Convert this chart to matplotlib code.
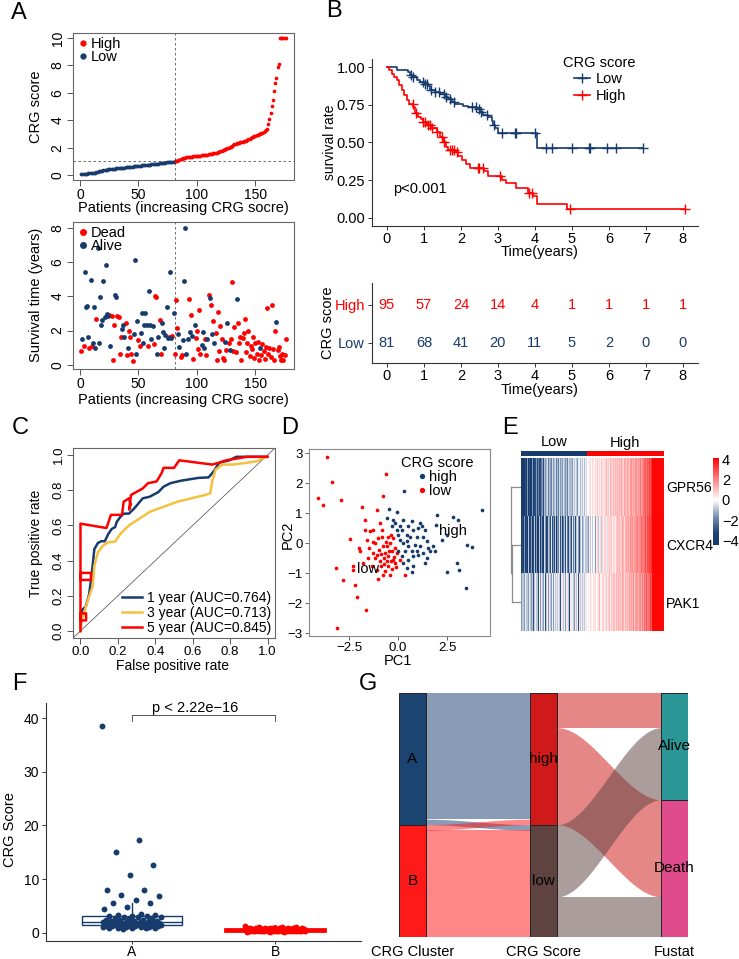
import numpy as np
import matplotlib
matplotlib.use("Agg")
import matplotlib.pyplot as plt
from matplotlib.colors import LinearSegmentedColormap, ListedColormap
from matplotlib.lines import Line2D
from matplotlib.patches import Rectangle

plt.rcParams["font.family"] = ["Liberation Sans", "DejaVu Sans"]

NAVY = "#173B6C"
RED = "#FF0000"
YELLOW = "#F5C040"

# ---------------- data ----------------

# A: risk score per patient (sorted), first N_LOW are the low group
N_LOW = 81
CUTOFF = 1.0
CRG_SCORE = [
    0.05, 0.07, 0.08, 0.09, 0.10, 0.11, 0.12, 0.13, 0.14, 0.15,
    0.16, 0.17, 0.18, 0.19, 0.22, 0.26, 0.29, 0.31, 0.33, 0.35,
    0.37, 0.38, 0.40, 0.41, 0.42, 0.43, 0.44, 0.45, 0.46, 0.47,
    0.48, 0.49, 0.50, 0.51, 0.52, 0.53, 0.54, 0.55, 0.56, 0.57,
    0.58, 0.59, 0.60, 0.61, 0.62, 0.63, 0.64, 0.65, 0.66, 0.67,
    0.68, 0.69, 0.70, 0.71, 0.72, 0.73, 0.74, 0.75, 0.76, 0.77,
    0.78, 0.79, 0.80, 0.81, 0.82, 0.83, 0.84, 0.85, 0.86, 0.87,
    0.88, 0.90, 0.91, 0.92, 0.93, 0.94, 0.95, 0.96, 0.97, 0.98, 0.99,
    1.02, 1.05, 1.08, 1.12, 1.16, 1.20, 1.23, 1.26, 1.28, 1.30,
    1.31, 1.32, 1.33, 1.34, 1.35, 1.36, 1.37, 1.38, 1.39, 1.40,
    1.41, 1.42, 1.43, 1.44, 1.45, 1.46, 1.47, 1.48, 1.50, 1.52,
    1.54, 1.56, 1.58, 1.60, 1.62, 1.64, 1.67, 1.70, 1.74, 1.78,
    1.82, 1.86, 1.90, 1.93, 1.96, 1.99, 2.03, 2.08, 2.14, 2.20,
    2.25, 2.29, 2.32, 2.35, 2.37, 2.39, 2.41, 2.43, 2.45, 2.47,
    2.50, 2.55, 2.60, 2.65, 2.70, 2.75, 2.80, 2.85, 2.88, 2.91,
    2.94, 2.97, 3.00, 3.04, 3.08, 3.13, 3.18, 3.25,
    3.35, 3.70, 4.10, 4.50, 5.00, 5.50, 6.10, 6.70, 7.10, 7.90, 8.10,
    10.0, 10.0, 10.0, 10.0, 10.0, 10.0,
]
SURV_TIME = [
    0.8, 1.5, 1.1, 5.45, 3.4, 3.45, 1.65, 1.0, 4.95, 1.1,
    1.25, 3.35, 1.0, 2.7, 6.85, 1.25, 3.95, 2.3, 2.6, 4.9,
    2.8, 5.85, 2.95, 2.85, 2.9, 1.1, 2.85, 0.25, 2.3, 4.05,
    3.95, 2.85, 2.8, 0.6, 1.65, 2.1, 2.3, 1.6, 2.45, 0.55,
    0.95, 1.95, 1.6, 0.65, 0.2, 1.8, 6.1, 0.65, 2.55, 1.45,
    1.1, 1.85, 3.0, 1.3, 2.35, 3.0, 2.35, 1.1, 4.3, 2.3,
    1.5, 2.25, 1.2, 4.0, 3.95, 0.65, 1.6, 2.6, 0.65, 2.45,
    1.9, 0.95, 1.75, 3.4, 1.55, 1.6, 5.4, 1.55, 1.7, 3.0,
    0.6, 3.8, 2.15, 1.8, 1.05, 0.45, 0.55, 1.45, 4.9, 8.0,
    0.65, 1.5, 3.85, 1.9, 2.9, 1.7, 0.35, 2.35, 1.55, 1.95,
    0.9, 3.2, 0.6, 1.15, 1.9, 1.0, 1.5, 0.55, 1.5, 4.05,
    3.9, 3.5, 1.8, 2.55, 1.3, 1.85, 0.3, 3.1, 0.8, 2.25,
    1.5, 0.4, 0.25, 1.35, 0.85, 2.45, 1.3, 0.85, 1.5, 4.85,
    0.8, 2.2, 0.75, 3.85, 2.45, 1.3, 1.6, 0.25, 1.55, 1.85,
    2.65, 0.75, 1.25, 2.0, 0.5, 1.1, 0.9, 1.6, 0.4, 1.25,
    0.65, 1.35, 0.3, 1.0, 0.55, 1.2, 0.8, 0.35, 1.05, 3.3,
    0.6, 1.0, 0.45, 3.5, 0.9, 0.3, 2.0, 2.5, 0.85, 1.05,
    0.5, 0.25, 0.6, 0.3, 0.55, 1.5,
]
SURV_DEAD = [
    1, 0, 1, 0, 0, 0, 0, 1, 0, 1,
    0, 0, 0, 1, 0, 0, 0, 0, 0, 0,
    0, 0, 0, 0, 1, 0, 1, 1, 1, 0,
    0, 1, 1, 1, 1, 0, 0, 0, 1, 1,
    0, 1, 1, 1, 1, 0, 0, 0, 0, 1,
    1, 0, 0, 0, 0, 0, 0, 1, 0, 0,
    0, 0, 1, 1, 1, 0, 0, 1, 1, 0,
    0, 0, 0, 0, 0, 1, 0, 0, 1, 0,
    1, 1, 1, 0, 0, 1, 1, 0, 0, 0,
    0, 0, 1, 0, 1, 0, 1, 0, 1, 1,
    1, 1, 1, 0, 0, 0, 1, 1, 0, 1,
    0, 1, 0, 1, 0, 1, 1, 1, 1, 1,
    1, 1, 1, 0, 1, 0, 1, 0, 1, 1,
    1, 1, 1, 0, 1, 1, 1, 1, 1, 1,
    1, 1, 1, 1, 1, 1, 1, 1, 1, 1,
    1, 1, 1, 0, 1, 1, 1, 1, 1, 1,
    1, 1, 1, 1, 1, 1, 1, 0, 1, 1,
    1, 1, 1, 1, 1, 1,
]

# B: Kaplan-Meier steps (time of drop, survival after drop)
LOW_T = [0, 0.26, 0.58, 0.62, 0.67, 0.80, 0.89, 1.03, 1.12, 1.16, 1.30, 1.43,
         1.57, 1.66, 1.75, 1.84, 2.06, 2.20, 2.42, 2.51, 2.60, 2.74, 2.83,
         2.87, 2.92, 3.01, 4.05]
LOW_S = [1.0, 0.978, 0.967, 0.945, 0.934, 0.912, 0.901, 0.89, 0.873, 0.846,
         0.835, 0.824, 0.802, 0.787, 0.769, 0.754, 0.741, 0.732, 0.721, 0.703,
         0.681, 0.666, 0.644, 0.615, 0.593, 0.565, 0.462]
LOW_END = 6.93
LOW_CENSOR = [0.64, 0.7, 0.98, 1.03, 1.08, 1.2, 1.3, 1.4, 1.55, 1.6, 1.7, 1.8,
              2.3, 2.4, 2.5, 2.55, 2.7, 2.9, 3.1, 3.45, 3.5, 4.0, 4.3, 4.45,
              5.0, 5.45, 5.5, 5.95, 6.2, 6.93]
HIGH_T = [0, 0.06, 0.13, 0.20, 0.26, 0.32, 0.40, 0.46, 0.53, 0.60, 0.71, 0.77,
          0.85, 0.91, 0.98, 1.07, 1.21, 1.34, 1.43, 1.52, 1.59, 1.66, 1.84,
          1.93, 2.02, 2.15, 2.24, 2.62, 2.74, 3.10, 3.23, 3.50, 3.82, 3.95,
          4.05, 4.86]
HIGH_S = [1.0, 0.978, 0.956, 0.934, 0.912, 0.879, 0.846, 0.813, 0.78, 0.758,
          0.736, 0.697, 0.67, 0.653, 0.635, 0.615, 0.593, 0.571, 0.538, 0.505,
          0.473, 0.451, 0.44, 0.411, 0.385, 0.358, 0.33, 0.308, 0.275, 0.253,
          0.231, 0.198, 0.165, 0.143, 0.095, 0.062]
HIGH_END = 8.05
HIGH_CENSOR = [0.7, 0.78, 0.98, 1.03, 1.1, 1.15, 1.22, 1.35, 1.5, 1.55, 1.7,
               1.75, 1.8, 1.88, 2.45, 2.5, 2.6, 3.05, 3.85, 3.92, 4.95, 8.05]
RISK_TIMES = [0, 1, 2, 3, 4, 5, 6, 7, 8]
RISK_HIGH = [95, 57, 24, 14, 4, 1, 1, 1, 1]
RISK_LOW = [81, 68, 41, 20, 11, 5, 2, 0, 0]

# C: ROC curves
ROC_LABELS = ["1 year (AUC=0.764)", "3 year (AUC=0.713)", "5 year (AUC=0.845)"]
FPR_1Y = [0, 0.009, 0.028, 0.046, 0.056, 0.065, 0.074, 0.093, 0.111, 0.13,
          0.148, 0.167, 0.185, 0.194, 0.213, 0.231, 0.259, 0.287, 0.333, 0.37,
          0.417, 0.444, 0.481, 0.537, 0.63, 0.685, 0.713, 0.741, 0.796, 0.833, 1.0]
TPR_1Y = [0, 0.12, 0.138, 0.206, 0.29, 0.37, 0.465, 0.5, 0.51, 0.51,
          0.55, 0.58, 0.59, 0.62, 0.648, 0.667, 0.667, 0.696, 0.754, 0.763,
          0.79, 0.82, 0.84, 0.854, 0.87, 0.873, 0.908, 0.956, 0.97, 0.99, 0.99]
FPR_3Y = [0, 0.004, 0.019, 0.037, 0.065, 0.074, 0.093, 0.12, 0.148, 0.185,
          0.213, 0.259, 0.315, 0.37, 0.444, 0.519, 0.593, 0.667, 0.694, 0.704,
          0.722, 0.759, 0.815, 0.889, 0.944, 0.981, 1.0]
TPR_3Y = [0, 0.06, 0.1, 0.167, 0.254, 0.37, 0.446, 0.485, 0.504, 0.508,
          0.552, 0.6, 0.638, 0.677, 0.706, 0.735, 0.754, 0.773, 0.783, 0.85,
          0.917, 0.946, 0.946, 0.956, 0.965, 0.985, 0.99]
FPR_5Y = [0, 0, 0.03, 0.03, 0, 0, 0.056, 0.056, 0, 0, 0.139, 0.163, 0.222,
          0.231, 0.259, 0.269, 0.26, 0.27, 0.333, 0.361, 0.407, 0.435, 0.444,
          0.5, 0.528, 0.63, 0.704, 0.74, 0.778, 0.889, 1.0]
TPR_5Y = [0, 0.1, 0.1, 0.06, 0.06, 0.33, 0.33, 0.29, 0.29, 0.61, 0.585, 0.66,
          0.66, 0.735, 0.754, 0.72, 0.69, 0.773, 0.81, 0.84, 0.85, 0.9, 0.927,
          0.927, 0.97, 0.956, 0.946, 0.956, 0.97, 0.99, 0.99]

# D: PCA
PCA_LOW_X = [-3.64, -3.38, -4.06, -3.81, -2.91, -0.61, -0.75, -1.82, -1.09, -1.67,
             -2.45, -1.94, -3.16, -2.82, -2.19, -2.11, -1.65, -3.1, -2.31, -2.28,
             -1.43, -1.26, -1.6, -1.17, -1.0, -0.92, -0.83, -0.95, -0.78, -0.66,
             -0.71, -0.49, -0.58, -0.41, -0.32, -0.27, -0.15, -0.07, -0.24, -0.49,
             -0.88, -1.0, -0.75, -0.41, -1.17, -1.34, -1.09, -1.26, -1.77, -1.51,
             -0.66, 0.1, 0.36, -0.37, -0.15, -0.82, -0.49, -1.67, -1.97, -0.92,
             -0.55, -0.3, -1.05, -0.6, -0.2, -0.85, -1.3, -0.45, -0.1, -0.7,
             -1.5, -0.35]
PCA_LOW_Y = [2.88, 2.05, 1.52, 1.29, 1.46, 2.32, 1.59, 1.22, 1.13, 0.79,
             0.14, -0.27, -0.82, -1.22, -1.38, -1.79, -2.22, -2.83, -0.74, -0.88,
             0.4, 0.46, 0.12, 0.01, 0.18, 0.68, 0.46, -0.21, -0.1, -0.32,
             -0.49, -0.43, -0.1, 0.01, -0.27, -0.55, -0.66, -0.32, 0.18, -0.77,
             -0.77, -1.19, -1.05, -1.05, -0.49, -0.77, -0.88, -0.32, -0.66, -0.49,
             -0.93, -0.55, -1.05, 0.29, -0.16, 0.23, 0.23, 0.46, -0.16, -0.6,
             -0.6, -0.85, -0.4, 0.05, -0.45, -0.35, 0.05, -0.25, -0.8, -0.7,
             -0.15, -0.6]
PCA_HIGH_X = [0.31, 4.3, -0.44, -0.07, 1.97, 2.79, 3.08, -0.58, -0.24, 0.27,
              0.7, 1.12, 1.21, 1.94, 2.23, 2.48, 3.5, 3.78, 2.99, 3.13,
              2.48, 3.45, 1.89, 1.46, 1.55, 0.95, 0.78, 0.44, 0.19, 0.02,
              0.1, 0.27, 0.53, 0.7, 0.87, 1.12, 1.29, 1.04, 0.78, 0.53,
              0.27, 0.7, 1.38, 1.63, 1.26, 1.38, 1.04, 0.53, -0.07, -0.15,
              -0.32, 0.1, 0.44, 0.61, 0.95, 0.36, 0.19, 0.02, 1.46, 1.8,
              0.78, 0.44]
PCA_HIGH_Y = [1.74, 1.13, 1.15, 1.04, 0.94, 0.87, 0.77, 0.85, 0.79, 0.77,
              0.74, 0.68, 0.57, 0.61, 0.12, 0.29, -0.04, -0.13, -0.64, -0.88,
              -0.94, -1.49, -0.27, 0.07, -0.16, 0.23, 0.46, 0.29, 0.46, 0.29,
              0.12, 0.01, -0.1, -0.27, -0.04, -0.1, -0.32, -0.38, -0.43, -0.55,
              -0.66, -0.94, -0.66, -0.27, 0.23, 0.46, 0.51, 0.59, 0.46, 0.68,
              0.57, 0.57, 0.07, 0.23, -0.27, -0.27, -0.43, -0.27, -0.49, -0.08,
              -0.77, -0.82]

# E: heatmap (columns ordered: 81 low-group samples, then 95 high-group samples)
GENES = ["GPR56", "CXCR4", "PAK1"]
HEAT_N_LOW = 81
GPR56 = [
    -4, -4, -3, -4, -4, -3, -4, -4, -1.5, -4,
    -3, -4, -4, -3, -1.5, -4, -3, -3, -4, -1.5,
    -3, -2, -3, -1, -3, -2, -1.5, -3, -1, -2,
    -1.5, -1, -0.5, -2, -1.5, -1, -1.5, -2, -0.5, -1,
    -1.5, -1, -0.5, -2, -1, -1, -2, -0.5, -1.5, -1,
    -1, -1.5, -0.5, -1, -1.5, -0.5, -1, -2, -0.5, -1,
    -1, -0.3, -1, -1.5, -0.3, -0.8, -1, -0.3, -0.8, -1.5,
    -0.3, -0.8, -0.2, -1, -0.3, -0.8, -0.2, -0.5, -1, -0.2,
    -0.5,
    0.1, 0.3, 0, 0.4, 0.6, 0, 0.3, 0.6, 0.3, 0.1,
    0.6, 0.3, 0.6, 0.9, 0.3, 0.6, 0.3, 0.6, 0.9, 0.6,
    0.3, 0.6, 0.9, 0.6, 1.2, 0.6, 0.9, 0.3, 0.6, 1.2,
    0.9, 0.6, 1.2, 0.9, 0.6, 1.2, 0.9, 1.2, 0.6, 0.9,
    1.2, 0.9, 1.5, 0.9, 1.2, 0.6, 1.5, 1.2, 0.9, 1.2,
    1.5, 1.2, 0.9, 1.5, 1.2, 1.8, 1.2, 1.5, 1.2, 1.8,
    1.5, 1.8, 1.2, 1.8, 1.5, 2.0, 2.2, 1.5, 1.8, 2.2,
    2.0, 2.4, 2.8, 2.0, 2.8, 2.4, 3.0, 3.2, 2.6, 3.4,
    4, 4, 4, 4, 4, 4, 4, 4, 4, 4,
    4, 4, 4, 4, 4,
]
CXCR4 = [
    -4, -3, -4, -4, -1.5, -4, -3, -4, -4, -0.8,
    -4, -3, -1.5, -4, -4, -3, -0.8, -4, -3, -1.5,
    -4, -4, -0.8, -3, -4, -1.5, -3, -4, -0.5, -3,
    -1.5, -4, -3, -0.8, -4, -1.5, -3, -0.3, -3, -4,
    -1.5, -3, -0.8, -4, -1.5, -3, -2, -0.3, -3, -0.8,
    -1.5, -4, -2, -0.8, -3, -1.5, -0.3, -2, -3, -0.8,
    -1.5, -0.8, -3, -0.3, -2, -0.8, -1.5, -3, -0.8, -0.2,
    -1.5, -0.8, -3, -0.8, -0.2, -1.5, -0.8, -2, -0.2, -0.8,
    -0.8,
    -0.8, 0, -1.5, 0.3, -0.8, 0, 0.6, -0.8, 0, 0.3,
    -1.5, 0.3, 0, 0.6, -0.8, 0.3, 0.6, 0, -0.8, 0.6,
    0.3, 0.6, 0, 0.9, 0.3, -0.5, 0.6, 0.9, 0, 0.6,
    0.9, 0.3, 0.6, 1.2, 0.6, 0.3, 0.9, 1.2, 0.6, 0.9,
    1.2, 0.6, 0.9, 1.5, 0.9, 1.2, 0.6, 1.2, 1.5, 0.9,
    1.2, 1.5, 1.2, 1.8, 1.2, 1.5, 1.8, 1.2, 1.5, 1.8,
    1.5, 1.8, 2.2, 1.5, 1.8, 2.2, 1.8, 2.6, 2.0, 2.2,
    2.6, 2.2, 3.0, 2.0, 3.0, 2.8, 2.4, 3.2, 3.0, 3.4,
    4, 4, 4, 4, 4, 4, 4, 4, 4, 4,
    4, 4, 4, 4, 4,
]
PAK1 = [
    -1.5, -0.8, -3, -0.8, -1.5, -0.2, -0.8, -3, -0.8, -1.5,
    -0.2, -0.8, -1.5, 0.5, -0.8, -3, -0.8, -0.2, -1.5, -0.8,
    -0.8, -3, -0.2, -0.8, -1.5, 0.5, -0.8, -1.5, -0.2, -0.8,
    -3, -0.8, -0.2, -1.5, -0.8, 0.5, -0.8, -1.5, -0.2, -0.8,
    -1.5, -0.2, -0.8, 0.5, -0.8, -1.5, -0.2, -0.8, -3, -0.2,
    -0.8, 0.5, -0.8, -0.2, -1.5, -0.8, -0.2, 0.5, -0.8, -4,
    -0.2, -0.8, 0.5, -0.2, -0.8, -1.5, -0.2, 0.5, -0.8, -0.2,
    -3, -0.2, 0.5, -0.8, -0.2, -0.8, 0.5, -0.2, -0.8, -0.2,
    0.5,
    0, 0.6, 0.3, 0, 0.6, 0.3, 0.9, 0, 0.6, 0.3,
    0.6, 0, 0.9, 0.3, 0.6, 1.2, 0.3, 0.6, 0, 0.9,
    0.6, 0.3, 1.2, 0.6, 0.9, 0.3, 0.6, 1.2, 0.6, 0.3,
    0.9, 0.6, 1.2, 0.3, 0.9, 0.6, 1.2, 0.9, 0.6, 1.2,
    0.9, 1.2, 0.6, 1.5, 0.9, 1.2, 0.6, 1.2, 0.9, 1.5,
    1.2, 0.9, 1.5, 1.2, 0.6, 1.5, 1.2, 1.8, 0.9, 1.5,
    1.2, 1.8, 1.5, 1.2, 1.8, 1.5, 2.0, 1.2, 2.2, 1.5,
    2.0, 2.4, 2.0, 2.8, 2.0, 2.4, 3.0, 2.2, 3.2, 2.6,
    4, 4, 4, 4, 4, 4, 4, 4, 4, 4,
    4, 4, 4, 4, 4,
]
DEND_HEIGHTS = [9.3, 10.3]   # merge CXCR4+PAK1, then with GPR56

# F: CRG score by cluster
SCORE_A = [38.5, 17.3, 15.0, 12.7, 10.8, 8.0, 7.9, 7.1, 6.8, 6.1, 5.6, 5.5, 4.8,
           4.5, 3.6, 3.4, 3.3, 3.2, 3.2, 3.1, 3.0, 3.0, 2.9, 2.8, 2.7, 2.6, 2.5,
           2.5, 2.4, 2.3, 2.3, 2.2, 2.2, 2.1, 2.1, 2.0, 2.0, 2.0, 1.9, 1.9, 1.9,
           1.8, 1.8, 1.8, 1.7, 1.7, 1.7, 1.6, 1.6, 1.6, 1.5, 1.5, 1.5, 1.5, 1.4,
           1.4, 1.4, 1.4, 1.3, 1.3, 1.3, 1.3, 1.2, 1.2, 1.2, 1.2, 1.1, 1.1, 1.1,
           1.1, 1.0, 1.0, 1.0, 0.9, 0.9, 0.8]
SCORE_B = [1.2, 1.15, 1.1, 1.05, 1.0, 1.0, 0.95, 0.95, 0.9, 0.9,
           0.9, 0.85, 0.85, 0.85, 0.8, 0.8, 0.8, 0.8, 0.75, 0.75,
           0.75, 0.75, 0.7, 0.7, 0.7, 0.7, 0.7, 0.65, 0.65, 0.65,
           0.65, 0.65, 0.6, 0.6, 0.6, 0.6, 0.6, 0.6, 0.55, 0.55,
           0.55, 0.55, 0.55, 0.5, 0.5, 0.5, 0.5, 0.5, 0.5, 0.45,
           0.45, 0.45, 0.45, 0.45, 0.4, 0.4, 0.4, 0.4, 0.4, 0.35,
           0.35, 0.35, 0.35, 0.3, 0.3, 0.3, 0.3, 0.25, 0.25, 0.25]
P_TEXT = "p < 2.22e\u221216"

# G: alluvial counts
AXIS_NAMES = ["CRG Cluster", "CRG Score", "Fustat"]
CLUSTERS = ["A", "B"]
SCORES = ["high", "low"]
FUSTAT = ["Alive", "Death"]
FLOW_CLUSTER_SCORE = {("A", "high"): 91, ("A", "low"): 4, ("B", "high"): 4, ("B", "low"): 77}
FLOW_SCORE_FUSTAT = {("high", "Alive"): 25, ("high", "Death"): 70,
                     ("low", "Alive"): 52, ("low", "Death"): 29}
STRATUM_COLORS = {"A": "#1B4471", "B": "#FF1A1A", "high": "#D01A1A",
                  "low": "#5E4340", "Alive": "#2A9696", "Death": "#E04B8B"}

# ---------------- layout helpers ----------------
W, H = 739, 959
fig = plt.figure(figsize=(W / 100, H / 100), dpi=100)


def box(l, t, r, b):
    return [l / W, 1 - b / H, (r - l) / W, (b - t) / H]


def ftext(x, y, s, **kw):
    kw.setdefault("ha", "center")
    kw.setdefault("va", "center")
    fig.text(x / W, 1 - y / H, s, **kw)


def base_style(ax, rot_y=True, size=10):
    for sp in ax.spines.values():
        sp.set_color("#666666")
        sp.set_linewidth(0.8)
    ax.tick_params(direction="out", length=4, width=0.7, color="#555555",
                   labelsize=size, pad=2)
    if rot_y:
        for lab in ax.get_yticklabels():
            lab.set_rotation(90)
            lab.set_va("center")


def gg_style(ax, size=10):
    ax.spines["top"].set_visible(False)
    ax.spines["right"].set_visible(False)
    for k in ("left", "bottom"):
        ax.spines[k].set_color("#333333")
        ax.spines[k].set_linewidth(0.8)
    ax.tick_params(direction="out", length=3, width=0.7, color="#333333",
                   labelsize=size, pad=2)
    ax.tick_params(axis="x", pad=1)


# ---------------- A top ----------------
ax = fig.add_axes(box(73, 33, 294, 180))
rank = np.arange(1, len(CRG_SCORE) + 1)
score = np.array(CRG_SCORE)
low = rank <= N_LOW
ax.scatter(rank[low], score[low], s=7, color=NAVY, lw=0, zorder=3)
ax.scatter(rank[~low], score[~low], s=7, color=RED, lw=0, zorder=3)
ax.axvline(N_LOW + 0.5, color="#555555", ls=(0, (3, 3)), lw=0.6)
ax.axhline(CUTOFF, color="#555555", ls=(0, (3, 3)), lw=0.6)
ax.set_xlim(-6, 183)
ax.set_ylim(-0.36, 10.36)
ax.set_xticks([0, 50, 100, 150])
ax.set_yticks(range(0, 11, 2))
base_style(ax)
ax.legend(handles=[Line2D([], [], marker="o", ls="", color=RED, ms=3.5, label="High"),
                   Line2D([], [], marker="o", ls="", color=NAVY, ms=3.5, label="Low")],
          loc="upper left", frameon=False, fontsize=10.5, handletextpad=0.1,
          borderaxespad=0.2, labelspacing=-0.1, borderpad=0.1, handlelength=0.8)
ftext(36, 107, "CRG score", rotation=90, fontsize=10.5)
ftext(183, 208, "Patients (increasing CRG socre)", fontsize=10.5)

# ---------------- A bottom ----------------
ax = fig.add_axes(box(73, 222, 294, 369))
stime = np.array(SURV_TIME)
dead = np.array(SURV_DEAD) == 1
ax.scatter(rank[dead], stime[dead], s=12, color=RED, lw=0, zorder=3)
ax.scatter(rank[~dead], stime[~dead], s=12, color=NAVY, lw=0, zorder=3)
ax.axvline(N_LOW + 0.5, color="#555555", ls=(0, (3, 3)), lw=0.6)
ax.set_xlim(-6, 183)
ax.set_ylim(-0.25, 8.35)
ax.set_xticks([0, 50, 100, 150])
ax.set_yticks(range(0, 9, 2))
base_style(ax)
ax.legend(handles=[Line2D([], [], marker="o", ls="", color=RED, ms=4, label="Dead"),
                   Line2D([], [], marker="o", ls="", color=NAVY, ms=4, label="Alive")],
          loc="upper left", frameon=False, fontsize=10.5, handletextpad=0.1,
          borderaxespad=0.2, labelspacing=-0.1, borderpad=0.1, handlelength=0.8)
ftext(36, 295, "Survival time (years)", rotation=90, fontsize=10.5)
ftext(183, 400, "Patients (increasing CRG socre)", fontsize=10.5)


# ---------------- B KM ----------------
def surv_at(tt, ss, c):
    i = np.searchsorted(np.array(tt), np.array(c), side="right") - 1
    return np.array(ss)[i]


ax = fig.add_axes(box(372, 59, 698, 226))
for tt, ss, end, cens, col in [(LOW_T, LOW_S, LOW_END, LOW_CENSOR, NAVY),
                               (HIGH_T, HIGH_S, HIGH_END, HIGH_CENSOR, RED)]:
    ax.step(list(tt) + [end], list(ss) + [ss[-1]], where="post", color=col, lw=1.2)
    ax.plot(cens, surv_at(tt, ss, cens), ls="", marker="+", ms=7, mew=1.0, color=col)
ax.set_xlim(-0.405, 8.41)
ax.set_ylim(-0.053, 1.053)
ax.set_xticks(RISK_TIMES)
ax.set_yticks([0, 0.25, 0.5, 0.75, 1.0])
ax.set_yticklabels(["0.00", "0.25", "0.50", "0.75", "1.00"])
gg_style(ax, 10.5)
ax.text(0.16, 0.19, "p<0.001", fontsize=10.5, ha="left", va="center")
ax.legend(handles=[Line2D([], [], color=NAVY, marker="+", ms=7, mew=1.0, lw=1.2, label="Low"),
                   Line2D([], [], color=RED, marker="+", ms=7, mew=1.0, lw=1.2, label="High")],
          title="CRG score", title_fontsize=10.5, fontsize=10.5, frameon=False,
          loc="upper left", bbox_to_anchor=(0.565, 1.06), handlelength=1.1,
          handletextpad=0.4, labelspacing=0.15, borderpad=0)
ftext(330, 142, "survival rate", rotation=90, fontsize=10)
ftext(540, 252, "Time(years)", fontsize=10.5)

# ---------------- B risk table ----------------
ax = fig.add_axes(box(372, 283, 698, 363))
for t, nh, nl in zip(RISK_TIMES, RISK_HIGH, RISK_LOW):
    ax.text(t, 1, str(nh), color=RED, ha="center", va="center", fontsize=10.5)
    ax.text(t, 0, str(nl), color=NAVY, ha="center", va="center", fontsize=10.5)
ax.set_xlim(-0.405, 8.41)
ax.set_ylim(-0.53, 1.58)
ax.set_xticks(RISK_TIMES)
ax.set_yticks([1, 0])
ax.set_yticklabels(["High", "Low"])
gg_style(ax, 10.5)
ax.get_yticklabels()[0].set_color(RED)
ax.get_yticklabels()[1].set_color(NAVY)
ftext(328, 323, "CRG score", rotation=90, fontsize=10.5)
ftext(540, 390, "Time(years)", fontsize=10.5)

# ---------------- C ROC ----------------
ax = fig.add_axes(box(73, 448, 275, 638))
ax.axline((0, 0), slope=1, color="#444444", lw=0.5)
ax.plot(FPR_1Y, TPR_1Y, color=NAVY, lw=1.8, label=ROC_LABELS[0])
ax.plot(FPR_3Y, TPR_3Y, color=YELLOW, lw=1.8, label=ROC_LABELS[1])
ax.plot(FPR_5Y, TPR_5Y, color=RED, lw=1.8, label=ROC_LABELS[2])
ax.set_xlim(-0.04, 1.04)
ax.set_ylim(-0.04, 1.04)
ax.set_xticks(np.arange(0, 1.01, 0.2))
ax.set_yticks(np.arange(0, 1.01, 0.2))
base_style(ax, size=9.5)
ax.legend(loc="lower right", frameon=False, fontsize=10, handlelength=1.4,
          handletextpad=0.4, labelspacing=0.05, borderaxespad=0.15, borderpad=0.1)
ftext(36, 543, "True positive rate", rotation=90, fontsize=10)
ftext(172, 666, "False positive rate", fontsize=10)

# ---------------- D PCA ----------------
ax = fig.add_axes(box(309, 449, 490, 636))
ax.scatter(PCA_LOW_X, PCA_LOW_Y, s=7, color=RED, lw=0)
ax.scatter(PCA_HIGH_X, PCA_HIGH_Y, s=7, color=NAVY, lw=0)
ax.text(2.79, 0.42, "high", fontsize=10.5, ha="center", va="center")
ax.text(-1.55, -0.85, "low", fontsize=10.5, ha="center", va="center")
ax.set_xlim(-4.54, 4.69)
ax.set_ylim(-3.09, 3.15)
ax.set_xticks([-2.5, 0, 2.5])
ax.set_yticks(range(-3, 4))
for sp in ax.spines.values():
    sp.set_color("#8A8A8A")
    sp.set_linewidth(0.8)
ax.tick_params(length=3, width=0.7, color="#666666", labelsize=9.5, pad=1.5)
ax.legend(handles=[Line2D([], [], marker="o", ls="", color=NAVY, ms=2.8, label="high"),
                   Line2D([], [], marker="o", ls="", color=RED, ms=2.8, label="low")],
          title="CRG score", title_fontsize=10.5, fontsize=10.5, frameon=False,
          loc="upper right", bbox_to_anchor=(0.95, 1.0), handlelength=0.6,
          handletextpad=0.2, labelspacing=0.0, borderpad=0)
ftext(288, 535, "PC2", rotation=90, fontsize=10.5)
ftext(398, 661, "PC1", fontsize=10.5)

# ---------------- E heatmap ----------------
heat = np.array([GPR56, CXCR4, PAK1], dtype=float)
ncol = heat.shape[1]
cmap = LinearSegmentedColormap.from_list(
    "hm", [(0.0, "#16386A"), (0.15, "#22457A"), (0.33, "#7C94B4"),
           (0.518, "#FFFFFF"), (1.0, "#FF0000")])
ax = fig.add_axes(box(521, 458, 664, 631))
im = ax.imshow(heat, cmap=cmap, vmin=-4.4, vmax=4.1, aspect="auto", interpolation="nearest")
ax.set_xticks([])
ax.set_yticks(range(len(GENES)))
ax.set_yticklabels(GENES)
ax.yaxis.tick_right()
ax.tick_params(length=0, labelsize=10, pad=1.5)
for sp in ax.spines.values():
    sp.set_visible(False)

ax = fig.add_axes(box(521, 451, 664, 456))
groups = np.array([[0] * HEAT_N_LOW + [1] * (ncol - HEAT_N_LOW)])
ax.imshow(groups, cmap=ListedColormap([NAVY, RED]), aspect="auto", interpolation="nearest")
ax.axis("off")
ax.text((HEAT_N_LOW - 1) / 2, -2.2, "Low", ha="center", va="center", fontsize=10.5)
ax.text(HEAT_N_LOW + (ncol - HEAT_N_LOW - 1) / 2, -2.2, "High", ha="center", va="center",
        fontsize=10.5)

ax = fig.add_axes(box(500, 458, 521, 631))
h1, h2 = DEND_HEIGHTS
dcol = "#8C8C8C"
ax.plot([0, h1], [1.5, 1.5], color=dcol, lw=0.9)
ax.plot([0, h1], [2.5, 2.5], color=dcol, lw=0.9)
ax.plot([h1, h1], [1.5, 2.5], color=dcol, lw=0.9)
ax.plot([h1, h2], [2.0, 2.0], color=dcol, lw=0.9)
ax.plot([0, h2], [0.5, 0.5], color=dcol, lw=0.9)
ax.plot([h2, h2], [0.5, 2.0], color=dcol, lw=0.9)
ax.set_xlim(21, 0)
ax.set_ylim(3, 0)
ax.axis("off")

cax = fig.add_axes(box(713, 458, 719, 545))
cb = fig.colorbar(im, cax=cax)
cb.set_ticks([4, 2, 0, -2, -4])
cb.outline.set_visible(False)
cax.tick_params(length=0, labelsize=10.5, pad=2)

# ---------------- F boxplot ----------------
ax = fig.add_axes(box(46, 703, 361, 941))
bp = ax.boxplot([SCORE_A, SCORE_B], positions=[1, 2], widths=0.7, showfliers=False,
                patch_artist=True)
for i, col in enumerate([NAVY, RED]):
    lw = 1.0 if i == 0 else 2.0
    bp["boxes"][i].set(facecolor="white", edgecolor=col, lw=lw)
    bp["medians"][i].set(color=col, lw=lw)
    for part in ("whiskers", "caps"):
        for ln in bp[part][2 * i:2 * i + 2]:
            ln.set(color=col, lw=lw)
for ln in bp["caps"]:
    ln.set_visible(False)
for pos, vals, col in [(1, SCORE_A, NAVY), (2, SCORE_B, RED)]:
    n = len(vals)
    jit = ((np.arange(n) * 0.618034) % 1 - 0.5) * 0.42
    ax.scatter(pos + jit, vals, s=18, color=col, lw=0, zorder=4)
ax.plot([1, 1, 2, 2], [39.4, 40.6, 40.6, 39.4], color="#555555", lw=0.7)
ax.text(1.44, 41.8, P_TEXT, ha="center", va="center", fontsize=10.5)
ax.set_xlim(0.4, 2.6)
ax.set_ylim(-1.5, 42.8)
ax.set_xticks([1, 2])
ax.set_xticklabels(["A", "B"])
ax.set_yticks(range(0, 41, 10))
gg_style(ax, 10)
ax.tick_params(axis="x", length=2.5, pad=0.5)
ftext(10, 830, "CRG Score", rotation=90, fontsize=10.5)

# ---------------- G alluvial ----------------
ax = fig.add_axes(box(399, 693, 688, 937))
total = sum(FLOW_CLUSTER_SCORE.values())
bw = 27 / 131.1
xs_axis = [1, 2, 3]


def stack(levels, counts):
    out, y = {}, 0
    for lv in levels:
        out[lv] = y
        y += counts[lv]
    return out


def ribbon(x0, x1, a0, b0, a1, b1, color, alpha):
    t = np.linspace(0, 1, 80)
    s = t * t * (3 - 2 * t)
    xx = x0 + (x1 - x0) * t
    ax.fill_between(xx, a0 + (a1 - a0) * s, b0 + (b1 - b0) * s, color=color,
                    alpha=alpha, lw=0)


def draw_flows(flows, left_levels, right_levels, x_left, x_right):
    n_left = {lv: sum(v for (a, b), v in flows.items() if a == lv) for lv in left_levels}
    n_right = {lv: sum(v for (a, b), v in flows.items() if b == lv) for lv in right_levels}
    pos_l = stack(left_levels, n_left)
    pos_r = stack(right_levels, n_right)
    left_off = {}
    for a in left_levels:
        y = pos_l[a]
        for b in right_levels:
            left_off[(a, b)] = y
            y += flows.get((a, b), 0)
    right_off = {}
    for b in right_levels:
        y = pos_r[b]
        for a in left_levels:
            right_off[(a, b)] = y
            y += flows.get((a, b), 0)
    for (a, b), v in flows.items():
        ribbon(x_left + bw / 2, x_right - bw / 2, left_off[(a, b)], left_off[(a, b)] + v,
               right_off[(a, b)], right_off[(a, b)] + v, STRATUM_COLORS[a], 0.52)
    return n_left, n_right, pos_l, pos_r


nA, nS, pA, pS = draw_flows(FLOW_CLUSTER_SCORE, CLUSTERS, SCORES, 1, 2)
_, nF, _, pF = draw_flows(FLOW_SCORE_FUSTAT, SCORES, FUSTAT, 2, 3)
for x, levels, n, p in [(1, CLUSTERS, nA, pA), (2, SCORES, nS, pS), (3, FUSTAT, nF, pF)]:
    for lv in levels:
        ax.add_patch(Rectangle((x - bw / 2, p[lv]), bw, n[lv], facecolor=STRATUM_COLORS[lv],
                               edgecolor="#222222", lw=0.7, zorder=3))
        ax.text(x, p[lv] + n[lv] / 2, lv, ha="center", va="center", fontsize=11, zorder=4)
for x, name in zip(xs_axis, AXIS_NAMES):
    ax.text(x, total * 1.062, name, ha="center", va="center", fontsize=10.5, clip_on=False)
ax.set_xlim(1 - bw / 2, 3 + bw / 2)
ax.set_ylim(total, 0)
ax.axis("off")

# ---------------- panel letters ----------------
for lt, x, y in [("A", 11, 13), ("B", 326, 11), ("C", 12, 428), ("D", 281, 428),
                 ("E", 502, 428), ("F", 12, 684), ("G", 359, 684)]:
    ftext(x, y, lt, ha="left", fontsize=17)

fig.savefig("out.png", dpi=100)
